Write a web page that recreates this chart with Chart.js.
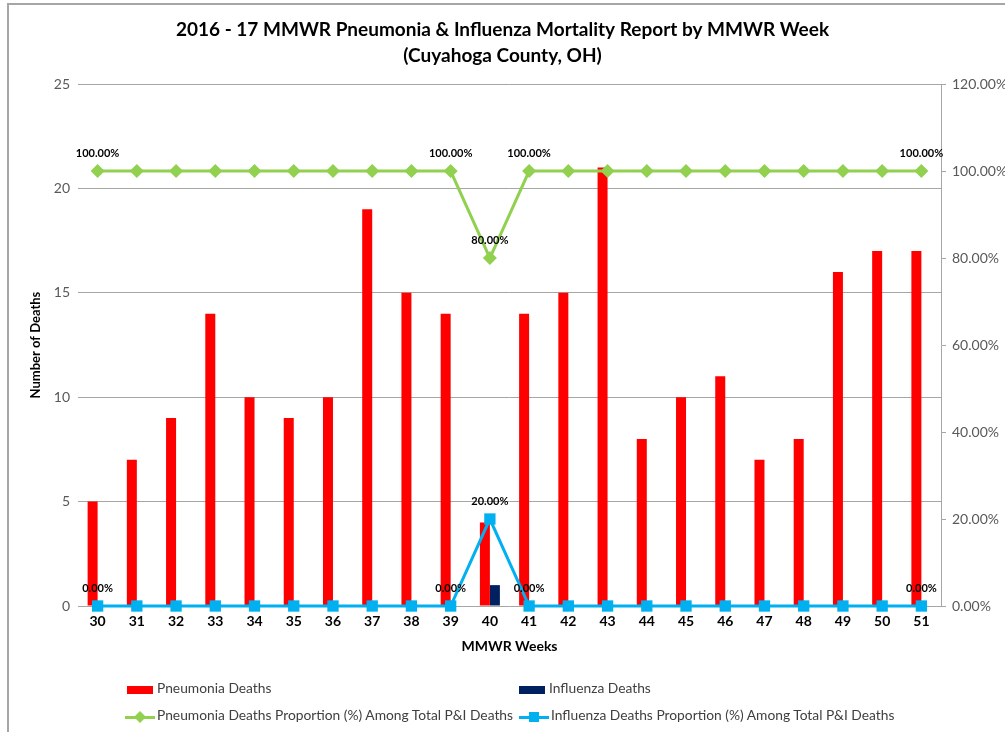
<!DOCTYPE html>
<html>
<head>
<meta charset="utf-8">
<title>P&amp;I Mortality Report</title>
<script src="https://cdn.jsdelivr.net/npm/chart.js@4.4.1/dist/chart.umd.min.js"></script>
<style>
  body { margin: 0; background: #fff; font-family: Lato, "Liberation Sans", sans-serif; }
  #wrap { position: relative; width: 1005px; height: 732px; overflow: hidden; }
  #frame { position: absolute; left: 7px; top: 3px; width: 1100px; height: 800px; border: 2px solid #a6a6a6; box-sizing: border-box; }
  canvas { position: absolute; left: 0; top: 0; }
  .lg { position: absolute; font-size: 13.8px; color: #404040; white-space: nowrap; line-height: 16px; }
  .box { display: inline-block; width: 26px; height: 8px; vertical-align: middle; margin-right: 4px; }
  .mk { display: inline-block; position: relative; width: 30px; height: 12px; vertical-align: middle; margin-right: 2px; }
  .mk .ln { position: absolute; left: 0; right: 0; top: 5px; height: 3px; }
  .mk .dot { position: absolute; left: 10px; top: 1px; width: 10px; height: 10px; }
</style>
</head>
<body>
<div id="wrap">
  <div id="frame"></div>
  <canvas id="chart" width="1005" height="732"></canvas>
  <div id="legend"></div>
</div>
<script>
// MMWR weeks (x axis)
const weeks = ['30','31','32','33','34','35','36','37','38','39','40','41','42','43','44','45','46','47','48','49','50','51'];

// deaths per week
const pneumoniaDeaths = [5, 7, 9, 14, 10, 9, 10, 19, 15, 14, 4, 14, 15, 21, 8, 10, 11, 7, 8, 16, 17, 17];
const influenzaDeaths = [0, 0, 0, 0, 0, 0, 0, 0, 0, 0, 1, 0, 0, 0, 0, 0, 0, 0, 0, 0, 0, 0];

// proportions (%) among total P&I deaths
const pneumoniaPct = [100, 100, 100, 100, 100, 100, 100, 100, 100, 100, 80, 100, 100, 100, 100, 100, 100, 100, 100, 100, 100, 100];
const influenzaPct = [0, 0, 0, 0, 0, 0, 0, 0, 0, 0, 20, 0, 0, 0, 0, 0, 0, 0, 0, 0, 0, 0];

// weeks that carry a value label on the two lines
const labeledWeeks = ['30', '39', '40', '41', '51'];

const seriesNames = [
  'Pneumonia Deaths',
  'Influenza Deaths',
  'Pneumonia Deaths Proportion (%) Among Total P&I Deaths',
  'Influenza Deaths Proportion (%) Among Total P&I Deaths'
];

const RED = '#ff0000', NAVY = '#002060', GREEN = '#92d050', BLUE = '#00b0f0';
const GRID = '#a6a6a6';
const FONT = 'Lato, "Liberation Sans", sans-serif';

const fmtPct = v => v.toFixed(2) + '%';

// draws the percentage labels above selected points
const pointLabels = {
  id: 'pointLabels',
  afterDatasetsDraw(chart) {
    const ctx = chart.ctx;
    ctx.save();
    ctx.font = 'bold 11px ' + FONT;
    ctx.fillStyle = '#000';
    ctx.textAlign = 'center';
    ctx.textBaseline = 'middle';
    chart.data.datasets.forEach((ds, i) => {
      if (ds.type !== 'line') return;
      const meta = chart.getDatasetMeta(i);
      meta.data.forEach((pt, j) => {
        if (!labeledWeeks.includes(weeks[j])) return;
        ctx.fillText(fmtPct(ds.data[j]), pt.x, pt.y - 18);
      });
    });
    ctx.restore();
  }
};

const chart = new Chart(document.getElementById('chart'), {
  data: {
    labels: weeks,
    datasets: [
      {
        type: 'bar', label: seriesNames[0], data: pneumoniaDeaths, yAxisID: 'y',
        backgroundColor: RED, categoryPercentage: 0.51, barPercentage: 1, order: 2
      },
      {
        type: 'bar', label: seriesNames[1], data: influenzaDeaths, yAxisID: 'y',
        backgroundColor: NAVY, categoryPercentage: 0.51, barPercentage: 1, order: 2
      },
      {
        type: 'line', label: seriesNames[2], data: pneumoniaPct, yAxisID: 'y1',
        borderColor: GREEN, backgroundColor: GREEN, borderWidth: 3, clip: false,
        pointStyle: 'rectRot', pointRadius: 7, pointBorderWidth: 0, tension: 0, order: 1
      },
      {
        type: 'line', label: seriesNames[3], data: influenzaPct, yAxisID: 'y1',
        borderColor: BLUE, backgroundColor: BLUE, borderWidth: 3, clip: false,
        pointStyle: 'rect', pointRadius: 8, pointBorderWidth: 0, tension: 0, order: 1
      }
    ]
  },
  options: {
    responsive: false,
    animation: false,
    layout: { padding: { left: 0, right: 0, top: 0, bottom: 70 } },
    plugins: {
      legend: { display: false },
      tooltip: { enabled: false },
      title: {
        display: true,
        text: ['2016 - 17 MMWR Pneumonia & Influenza Mortality Report by MMWR Week', '(Cuyahoga County, OH)'],
        color: '#000',
        font: { family: FONT, size: 19, weight: 'bold', lineHeight: 1.37 },
        padding: { top: 17, bottom: 15 }
      }
    },
    scales: {
      x: {
        offset: true,
        grid: { display: false, drawTicks: false },
        border: { display: false },
        ticks: { color: '#000', padding: 7, font: { family: FONT, size: 14, weight: 'bold' } },
        title: {
          display: true, text: 'MMWR Weeks', color: '#000',
          font: { family: FONT, size: 14, weight: 'bold' }, padding: { top: 0, bottom: 7 }
        },
        afterFit(s) { s.height = 56; }
      },
      y: {
        position: 'left', min: 0, max: 25,
        grid: { color: GRID, lineWidth: 1, drawTicks: false },
        border: { display: false },
        ticks: { stepSize: 5, color: '#595959', padding: 8, font: { family: FONT, size: 14 } },
        title: {
          display: true, text: 'Number of Deaths', color: '#000',
          font: { family: FONT, size: 13, weight: 'bold' }, padding: { top: 28, bottom: 0 }
        },
        afterFit(s) { s.width = 78; }
      },
      y1: {
        position: 'right', min: 0, max: 120,
        grid: { drawOnChartArea: false, color: GRID, tickLength: 5 },
        border: { display: true, color: GRID },
        ticks: { stepSize: 20, color: '#595959', padding: 6, font: { family: FONT, size: 14 }, callback: v => fmtPct(v) },
        afterFit(s) { s.width = 64; }
      }
    }
  },
  plugins: [pointLabels]
});

// legend laid out like the original: two rows, two columns
const legendSpots = [
  { x: 127, y: 680, color: RED, kind: 'box' },
  { x: 519, y: 680, color: NAVY, kind: 'box' },
  { x: 125, y: 707, color: GREEN, kind: 'diamond' },
  { x: 519, y: 707, color: BLUE, kind: 'square' }
];
const legend = document.getElementById('legend');
seriesNames.forEach((name, i) => {
  const s = legendSpots[i];
  const item = document.createElement('div');
  item.className = 'lg';
  item.style.left = s.x + 'px';
  item.style.top = s.y + 'px';
  let mark;
  if (s.kind === 'box') {
    mark = '<span class="box" style="background:' + s.color + '"></span>';
  } else {
    const rot = s.kind === 'diamond' ? 'transform:rotate(45deg) scale(0.85);' : '';
    mark = '<span class="mk"><span class="ln" style="background:' + s.color + '"></span>' +
           '<span class="dot" style="background:' + s.color + ';' + rot + '"></span></span>';
  }
  item.innerHTML = mark;
  item.appendChild(document.createTextNode(name));
  legend.appendChild(item);
});
</script>
</body>
</html>
